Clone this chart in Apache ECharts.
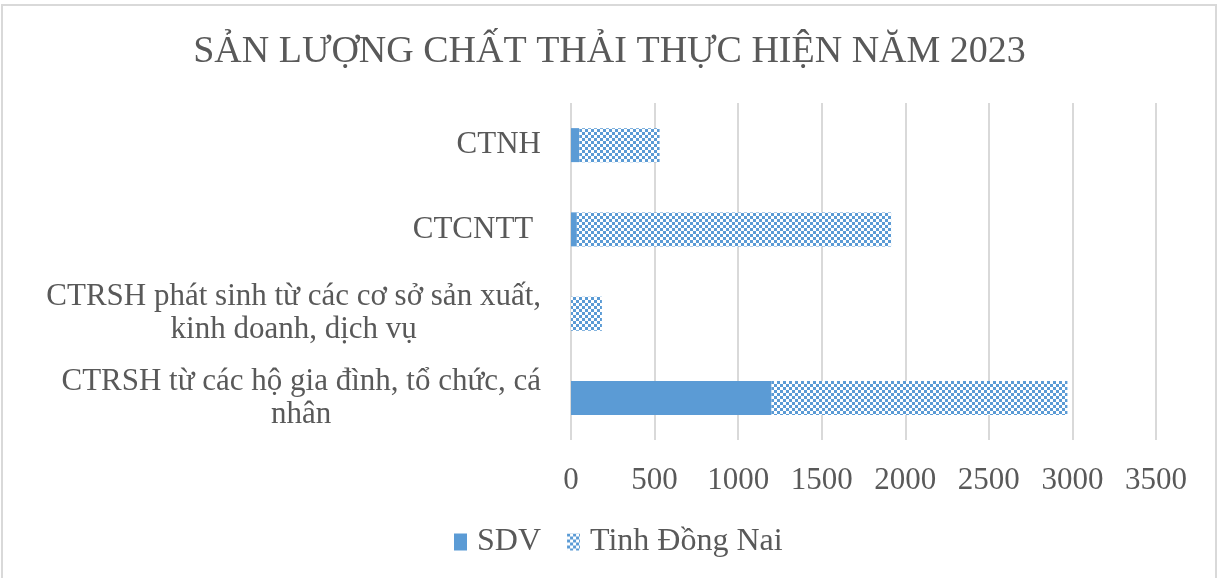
<!DOCTYPE html>
<html>
<head>
<meta charset="utf-8">
<script src="https://cdn.jsdelivr.net/npm/echarts@6/dist/echarts.min.js"></script>
<style>
  html, body { margin: 0; padding: 0; background: #fff; }
  #main { width: 1219px; height: 578px; }
</style>
</head>
<body>
<div id="main"></div>
<script>
// categories listed bottom -> top (category axis draws first item at the bottom)
var categories = [
    "CTRSH từ các hộ gia đình, tổ chức, cá\nnhân",
    "CTRSH phát sinh từ các cơ sở sản xuất,\nkinh doanh, dịch vụ",
    "CTCNTT ",
    "CTNH"
];
var sdvData = [1200, 0, 35, 50];
var dongNaiData = [1770, 185, 1880, 480];
var xTicks = [0, 3500, 500];

var blue = "#5B9BD5";
var textColor = "#595959";
var serif = "'Liberation Serif', 'Times New Roman', serif";

// small checkerboard fill, like the office pattern
var makePattern = function () {
    var c = document.createElement("canvas");
    c.width = 6;
    c.height = 6;
    var ctx = c.getContext("2d");
    ctx.fillStyle = "#ffffff";
    ctx.fillRect(0, 0, 6, 6);
    ctx.fillStyle = blue;
    ctx.fillRect(0, 0, 3, 3);
    ctx.fillRect(3, 3, 3, 3);
    return c;
};
var pattern = { image: makePattern(), repeat: "repeat" };

var chart = echarts.init(document.getElementById("main"), null, { renderer: "canvas" });

var option = {
    animation: false,
    backgroundColor: "#ffffff",
    title: {
        text: "SẢN LƯỢNG CHẤT THẢI THỰC HIỆN NĂM 2023",
        left: "center",
        top: 28,
        textStyle: { fontFamily: serif, fontSize: 38, fontWeight: "normal", color: textColor }
    },
    legend: {
        bottom: 15,
        left: 449,
        itemWidth: 13,
        itemHeight: 17,
        itemGap: 26,
        icon: "rect",
        textStyle: { fontFamily: serif, fontSize: 32, color: textColor, padding: [0, 0, 0, 5] },
        data: ["SDV", "Tinh Đồng Nai"]
    },
    grid: {
        left: 571,
        right: 63,
        top: 103,
        bottom: 138,
        containLabel: false
    },
    xAxis: {
        type: "value",
        min: xTicks[0],
        max: xTicks[1],
        interval: xTicks[2],
        axisLine: { show: false },
        axisTick: { show: false },
        splitLine: { show: true, lineStyle: { color: "#d9d9d9", width: 2 } },
        axisLabel: {
            fontFamily: serif,
            fontSize: 31,
            color: textColor,
            margin: 25,
            formatter: function (v) { return String(v); }
        }
    },
    yAxis: {
        type: "category",
        data: categories,
        axisLine: { show: false },
        axisTick: { show: false },
        splitLine: { show: false },
        axisLabel: {
            align: "right",
            margin: 30,
            fontFamily: serif,
            fontSize: 31,
            color: textColor,
            lineHeight: 33,
            formatter: function (v) {
                return v.split("\n").map(function (s) { return "{c|" + s + "}"; }).join("\n");
            },
            rich: {
                c: { align: "center", fontFamily: serif, fontSize: 31, color: textColor, lineHeight: 33 }
            }
        }
    },
    graphic: [{
        type: "rect",
        silent: true,
        shape: { x: 2, y: 5, width: 1214, height: 590 },
        style: { fill: "none", stroke: "#d9d9d9", lineWidth: 2 }
    }],
    series: [
        {
            name: "SDV",
            type: "bar",
            stack: "total",
            barWidth: 34,
            itemStyle: { color: blue },
            data: sdvData
        },
        {
            name: "Tinh Đồng Nai",
            type: "bar",
            stack: "total",
            barWidth: 34,
            itemStyle: { color: pattern },
            data: dongNaiData
        }
    ]
};
chart.setOption(option);
</script>
</body>
</html>
